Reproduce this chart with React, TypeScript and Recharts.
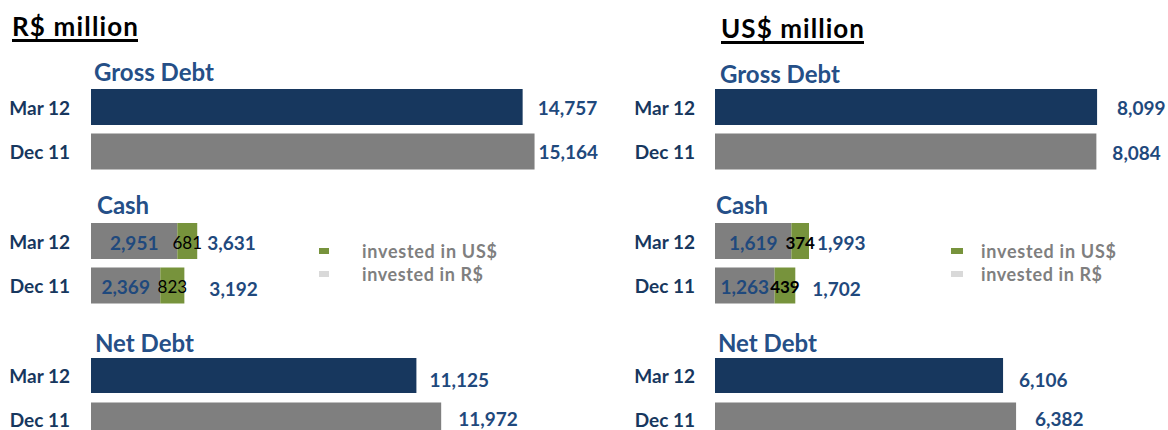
import React from "react";
import { BarChart, Bar, XAxis, YAxis, Cell, LabelList } from "recharts";

// periods shown on every sub chart
const periods = ["Mar 12", "Dec 11"];

// R$ million
const grossDebtBRL = [14757, 15164];
const cashInRealBRL = [2951, 2369];
const cashInDollarBRL = [681, 823];
const cashTotalBRL = [3631, 3192];
const netDebtBRL = [11125, 11972];

// US$ million
const grossDebtUSD = [8099, 8084];
const cashInRealUSD = [1619, 1263];
const cashInDollarUSD = [374, 439];
const cashTotalUSD = [1993, 1702];
const netDebtUSD = [6106, 6382];

const legendLabels = ["invested in US$", "invested in R$"];

const FONT = "Lato, Carlito, 'Open Sans', sans-serif";
const NAVY = "#17375E";
const GRAY = "#7F7F7F";
const GREEN = "#77933C";
const LIGHT = "#D9D9D9";
const TITLE = "#254F87";
const VALUE = "#1F497D";
const ROW_H = 89;

const fmt = (v: number) => v.toLocaleString("en-US");

const panels = {
  brl: {
    left: 0, width: 600, axisWidth: 91, plotWidth: 468, domainMax: 16000, tickGap: 21,
    grossDx: [15, 4], netDx: [13, 17], cashDx: [10, 25], usWeight: 400, usSize: 17,
    legendBox: 319, legendBoxW: 10, legendText: 362, legendW: [135, 121],
  },
  usd: {
    left: 600, width: 568, axisWidth: 115, plotWidth: 401, domainMax: 8500, tickGap: 20,
    grossDx: [20, 16], netDx: [16, 19], cashDx: [8, 17], usWeight: 700, usSize: 17,
    legendBox: 351, legendBoxW: 12, legendText: 381, legendW: [135, 121],
  },
};

const PeriodTick = (props: any) => {
  const { x, y, payload } = props;
  return (
    <text x={x} y={y} textAnchor="end" dominantBaseline="central" fill={NAVY}
      fontSize={19} fontWeight={700} fontFamily={FONT}>
      {payload.value}
    </text>
  );
};

const sideLabel = (dxs: number[], dys: number[]) => (props: any) => {
  const { x, y, width, height, value, index } = props;
  const i = index ?? 0;
  return (
    <text x={x + width + dxs[i]} y={y + height / 2 + dys[i]} dominantBaseline="central"
      fill={VALUE} fontSize={19} fontWeight={700} fontFamily={FONT}>
      {fmt(value)}
    </text>
  );
};

const centerLabel = (fill: string, size: number, weight: number) => (props: any) => {
  const { x, y, width, height, value } = props;
  return (
    <text x={x + width / 2} y={y + height / 2 + 1} textAnchor="middle" dominantBaseline="central"
      fill={fill} fontSize={size} fontWeight={weight} fontFamily={FONT}>
      {fmt(value)}
    </text>
  );
};

function DebtChart({ panel, top, values, dx, dy, barSize }: any) {
  const data = periods.map((p, i) => ({ period: p, value: values[i] }));
  return (
    <div style={{ position: "absolute", left: panel.left, top, width: panel.width, height: ROW_H }}>
      <BarChart layout="vertical" width={panel.width} height={ROW_H} data={data}
        margin={{ top: 0, right: panel.width - panel.axisWidth - panel.plotWidth, bottom: 0, left: 0 }}>
        <XAxis type="number" hide domain={[0, panel.domainMax]} />
        <YAxis type="category" dataKey="period" width={panel.axisWidth} axisLine={false} tickLine={false}
          tickSize={0} tickMargin={panel.tickGap} tick={<PeriodTick />} interval={0} />
        <Bar dataKey="value" barSize={barSize} isAnimationActive={false}>
          {data.map((d, i) => (
            <Cell key={d.period} fill={i === 0 ? NAVY : GRAY} />
          ))}
          <LabelList dataKey="value" content={sideLabel(dx, dy)} />
        </Bar>
      </BarChart>
    </div>
  );
}

function CashChart({ panel, top, real, dollar, total }: any) {
  const data = periods.map((p, i) => ({ period: p, real: real[i], dollar: dollar[i], total: total[i] }));
  return (
    <div style={{ position: "absolute", left: panel.left, top, width: panel.width, height: ROW_H }}>
      <BarChart layout="vertical" width={panel.width} height={ROW_H} data={data}
        margin={{ top: 0, right: panel.width - panel.axisWidth - panel.plotWidth, bottom: 0, left: 0 }}>
        <XAxis type="number" hide domain={[0, panel.domainMax]} />
        <YAxis type="category" dataKey="period" width={panel.axisWidth} axisLine={false} tickLine={false}
          tickSize={0} tickMargin={panel.tickGap} tick={<PeriodTick />} interval={0} />
        <Bar dataKey="real" stackId="cash" fill={GRAY} barSize={36} isAnimationActive={false}>
          <LabelList dataKey="real" content={centerLabel(VALUE, 19, 700)} />
        </Bar>
        <Bar dataKey="dollar" stackId="cash" fill={GREEN} barSize={36} isAnimationActive={false}>
          <LabelList dataKey="dollar" content={centerLabel("#000000", panel.usSize, panel.usWeight)} />
          <LabelList dataKey="total" content={sideLabel(panel.cashDx, [1, 3])} />
        </Bar>
      </BarChart>
    </div>
  );
}

function Texts() {
  const title = (x: number, y: number, t: string) => (
    <text x={x} y={y} fill={TITLE} fontSize={24} fontWeight={700} fontFamily={FONT}>{t}</text>
  );
  const legend = (panel: any) => (
    <g>
      <rect x={panel.left + panel.legendBox} y={248} width={panel.legendBoxW} height={6} fill={GREEN} />
      <rect x={panel.left + panel.legendBox} y={271} width={panel.legendBoxW} height={6} fill={LIGHT} />
      <text x={panel.left + panel.legendText} y={251} dominantBaseline="central" fill={GRAY}
        fontSize={18} fontWeight={700} fontFamily={FONT} textLength={panel.legendW[0]}
        lengthAdjust="spacing">{legendLabels[0]}</text>
      <text x={panel.left + panel.legendText} y={274} dominantBaseline="central" fill={GRAY}
        fontSize={18} fontWeight={700} fontFamily={FONT} textLength={panel.legendW[1]}
        lengthAdjust="spacing">{legendLabels[1]}</text>
    </g>
  );
  return (
    <svg width={1168} height={430} style={{ position: "absolute", left: 0, top: 0, pointerEvents: "none" }}>
      <text x={12} y={36} fill="#000" fontSize={26} fontWeight={700} fontFamily={FONT}
        textLength={126} lengthAdjust="spacing">R$ million</text>
      <rect x={12} y={39} width={126} height={3} fill="#000" />
      <text x={721} y={38} fill="#000" fontSize={26} fontWeight={700} fontFamily={FONT}
        textLength={143} lengthAdjust="spacing">US$ million</text>
      <rect x={721} y={41} width={143} height={3} fill="#000" />
      {title(94, 81, "Gross Debt")}
      {title(720, 83, "Gross Debt")}
      {title(97, 214, "Cash")}
      {title(716, 214, "Cash")}
      {title(95, 352, "Net Debt")}
      {title(718, 352, "Net Debt")}
      {legend(panels.brl)}
      {legend(panels.usd)}
    </svg>
  );
}

export default function App() {
  return (
    <div style={{ position: "absolute", left: 0, top: 0, width: 1168, height: 430, overflow: "hidden", background: "#fff" }}>
      <DebtChart panel={panels.brl} top={85} values={grossDebtBRL} dx={panels.brl.grossDx} dy={[0, 0]} barSize={36} />
      <CashChart panel={panels.brl} top={219} real={cashInRealBRL} dollar={cashInDollarBRL} total={cashTotalBRL} />
      <DebtChart panel={panels.brl} top={353} values={netDebtBRL} dx={panels.brl.netDx} dy={[4, -2]} barSize={35} />
      <DebtChart panel={panels.usd} top={85} values={grossDebtUSD} dx={panels.usd.grossDx} dy={[0, 1]} barSize={36} />
      <CashChart panel={panels.usd} top={219} real={cashInRealUSD} dollar={cashInDollarUSD} total={cashTotalUSD} />
      <DebtChart panel={panels.usd} top={353} values={netDebtUSD} dx={panels.usd.netDx} dy={[4, -2]} barSize={35} />
      <Texts />
    </div>
  );
}
